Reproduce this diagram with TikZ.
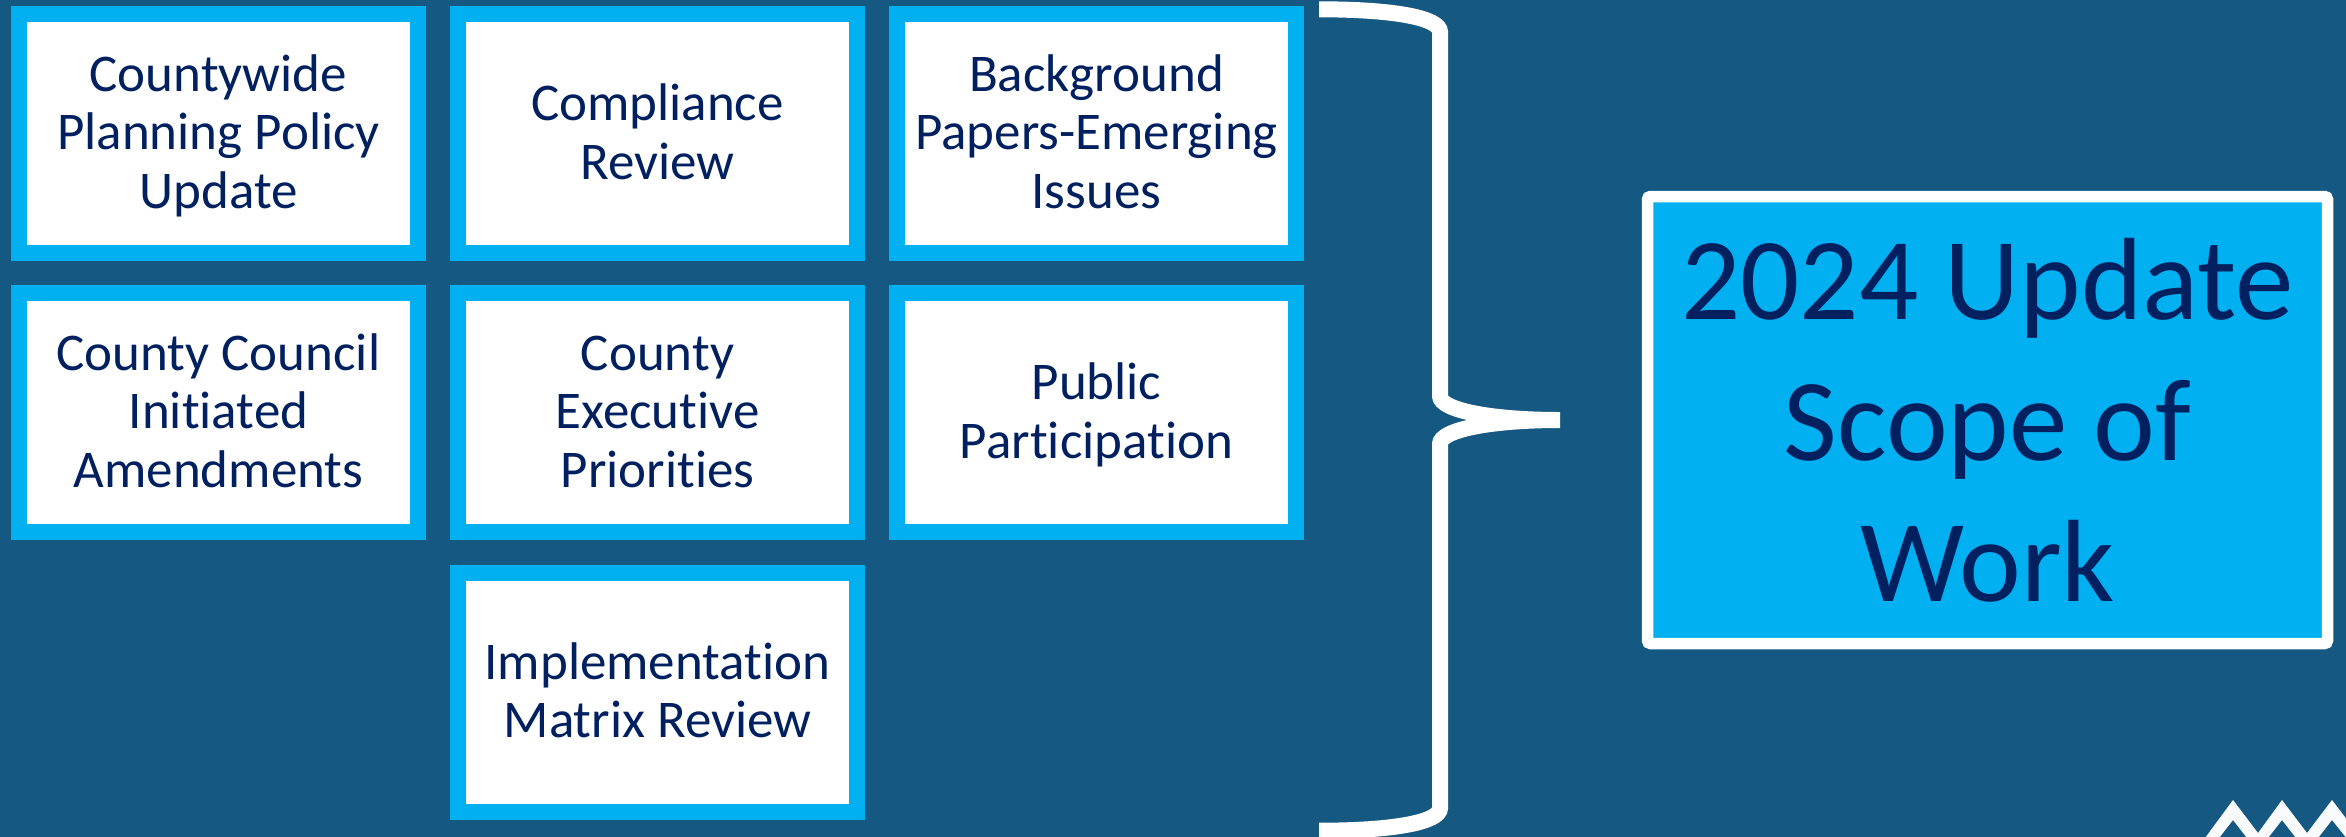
\documentclass[tikz,border=0pt]{standalone}
\usepackage{fontspec}
\setmainfont{Carlito}[Ligatures=NoCommon]
\definecolor{bgblue}{HTML}{155882}
\definecolor{skyblue}{HTML}{00B0F0}
\definecolor{navy}{HTML}{002060}
\newcommand{\topstrut}{\rule{0pt}{43.5pt}}
\newcommand{\botstrut}{\rule[-11pt]{0pt}{11pt}}
\tikzset{
  x=1pt,y=-1pt,
  topicbox/.style={draw=skyblue,fill=white,line width=16pt,minimum width=399pt,minimum height=239pt,
    inner sep=0pt,outer sep=0pt,align=center,text=navy,font=\fontsize{53}{58.5}\selectfont},
  scopebox/.style={draw=white,fill=skyblue,line width=11.5pt,rounded corners=3pt,minimum width=680pt,minimum height=447pt,
    inner sep=0pt,outer sep=0pt,align=center,text=navy,font=\fontsize{117}{141}\selectfont},
  bracket/.style={draw=white,line width=16pt,line join=miter,line cap=butt}
}
\begin{document}
\begin{tikzpicture}
\useasboundingbox (0,0) rectangle (2346,836);
\fill[bgblue] (-5,-5) rectangle (2351,841);
\node[topicbox] (cpp) at (218.5,133.5) {\topstrut Countywide\\Planning Policy\\Update\botstrut};
\node[topicbox] (comp) at (657.5,133.5) {\topstrut Compliance\\Review\botstrut};
\node[topicbox] (bg) at (1096.5,133.5) {\topstrut Background\\Papers-Emerging\\Issues\botstrut};
\node[topicbox] (council) at (218.5,412.5) {\topstrut County Council\\Initiated\\Amendments\botstrut};
\node[topicbox] (exec) at (657.5,412.5) {\topstrut County\\Executive\\Priorities\botstrut};
\node[topicbox] (public) at (1096.5,412.5) {\topstrut Public\\Participation\botstrut};
\node[topicbox] (impl) at (657.5,692) {\topstrut Implementation\\Matrix Review\botstrut};
\node[scopebox] (scope) at (1987.5,420) {2024 Update\\Scope of\\Work};
\draw[bracket] (1319,9.3) .. controls (1395,9.3) and (1440,18) .. (1440,32)
  -- (1440,396) .. controls (1440,410) and (1490,420) .. (1560,420)
  .. controls (1490,420) and (1440,430) .. (1440,444)
  -- (1440,808) .. controls (1440,822) and (1395,830.7) .. (1319,830.7);
\begin{scope}
\clip (0,0) rectangle (2346,836);
\fill[white!97!bgblue] (2205,838) -- (2233,800) -- (2258,833) -- (2282,800) -- (2307,833) -- (2332,800) -- (2348,821)
  -- (2348,840) -- (2332,820) -- (2318,838) -- (2296,838) -- (2282,820) -- (2268,838) -- (2247,838) -- (2233,820) -- (2219,838) -- cycle;
\end{scope}
\end{tikzpicture}
\end{document}
